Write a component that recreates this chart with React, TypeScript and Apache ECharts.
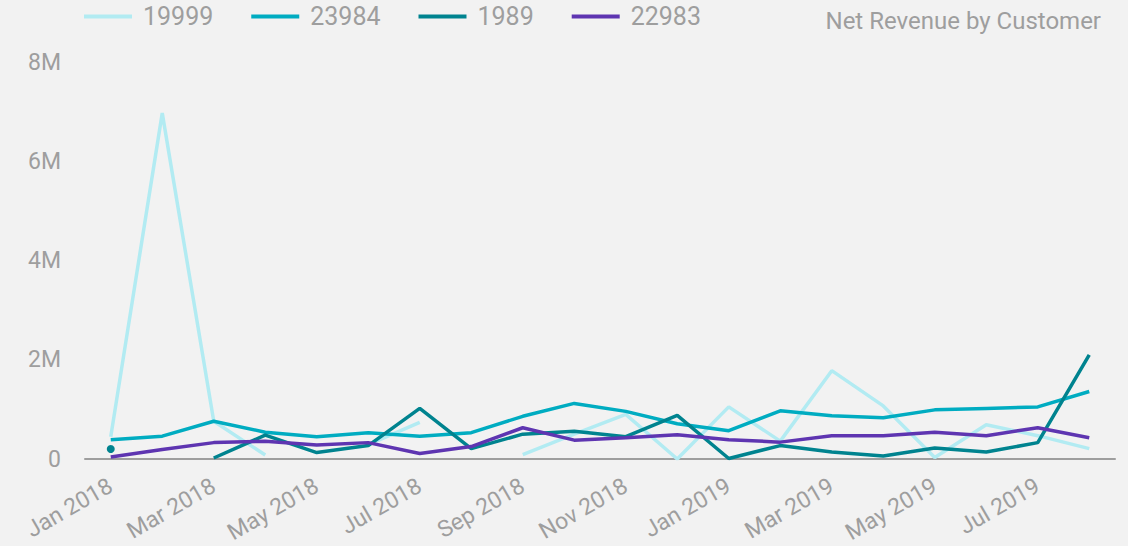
import React, { useEffect, useRef } from "react";
import * as echarts from "echarts";

const months = [
  "Jan 2018", "Feb 2018", "Mar 2018", "Apr 2018", "May 2018", "Jun 2018", "Jul 2018", "Aug 2018", "Sep 2018", "Oct 2018",
  "Nov 2018", "Dec 2018", "Jan 2019", "Feb 2019", "Mar 2019", "Apr 2019", "May 2019", "Jun 2019", "Jul 2019", "Aug 2019",
];

// values in millions
const s19999 = [0.45, 6.97, 0.76, 0.08, null, 0.29, 0.74, null, 0.09, 0.5, 0.9, 0.0, 1.05, 0.36, 1.78, 1.07, 0.03, 0.69, 0.47, 0.21];
const s23984 = [0.39, 0.46, 0.76, 0.54, 0.45, 0.53, 0.46, 0.53, 0.86, 1.12, 0.96, 0.71, 0.57, 0.97, 0.87, 0.83, 0.99, 1.02, 1.05, 1.36];
const s1989 = [0.2, null, 0.02, 0.48, 0.13, 0.27, 1.02, 0.21, 0.5, 0.56, 0.45, 0.88, 0.01, 0.27, 0.14, 0.06, 0.22, 0.14, 0.33, 2.1];
const s22983 = [0.04, 0.19, 0.33, 0.36, 0.28, 0.33, 0.11, 0.25, 0.63, 0.38, 0.43, 0.49, 0.39, 0.34, 0.47, 0.47, 0.54, 0.47, 0.63, 0.43];

const seriesNames = ["19999", "23984", "1989", "22983"];
const seriesData = [s19999, s23984, s1989, s22983];
const colors = ["#b2ebf2", "#00acc1", "#00838f", "#5e35b1"];

function isolated(arr: (number | null)[]) {
  return arr.map((v, i) => {
    if (v === null) return null;
    const prev = i > 0 ? arr[i - 1] : null;
    const next = i < arr.length - 1 ? arr[i + 1] : null;
    if (prev === null && next === null) {
      return { value: v, symbol: "circle", symbolSize: 8 };
    }
    return v;
  });
}

export default function App() {
  const ref = useRef<HTMLDivElement>(null);
  useEffect(() => {
    if (!ref.current) return;
    const chart = echarts.init(ref.current, null, { renderer: "svg" });
    const font = "Roboto";
    chart.setOption({
      animation: false,
      backgroundColor: "#f2f2f2",
      color: colors,
      title: {
        text: "Net Revenue by Customer",
        right: 27,
        top: 9,
        padding: 0,
        textStyle: { fontFamily: font, fontSize: 24, fontWeight: "normal", color: "#9e9e9e" },
      },
      legend: {
        left: 84,
        top: 4,
        padding: 0,
        icon: "rect",
        itemWidth: 48,
        itemHeight: 4,
        itemGap: 38,
        textStyle: { fontFamily: font, fontSize: 25, color: "#9e9e9e", padding: [0, 0, 0, 6] },
        data: seriesNames,
      },
      grid: { left: 85, right: 13, top: 62, bottom: 87, containLabel: false, outerBoundsMode: "none" },
      xAxis: {
        type: "category",
        data: months,
        boundaryGap: true,
        axisLine: { lineStyle: { color: "#9e9e9e", width: 2 } },
        axisTick: { show: false },
        axisLabel: {
          interval: 1,
          rotate: 30,
          margin: 25,
          fontFamily: font,
          fontSize: 23,
          color: "#9e9e9e",
        },
      },
      yAxis: {
        type: "value",
        min: 0,
        max: 8,
        interval: 2,
        splitLine: { show: false },
        axisLine: { show: false },
        axisTick: { show: false },
        axisLabel: {
          margin: 24,
          fontFamily: font,
          fontSize: 23,
          color: "#9e9e9e",
          formatter: (v: number) => (v === 0 ? "0" : v + "M"),
        },
      },
      series: seriesNames.map((name, i) => ({
        name,
        type: "line",
        data: isolated(seriesData[i]),
        symbol: "none",
        showSymbol: true,
        connectNulls: false,
        lineStyle: { width: 3.5, color: colors[i] },
        itemStyle: { color: colors[i] },
      })),
    });
    return () => chart.dispose();
  }, []);
  return <div ref={ref} style={{ width: 1128, height: 546, position: "absolute", left: 0, top: 0 }} />;
}
